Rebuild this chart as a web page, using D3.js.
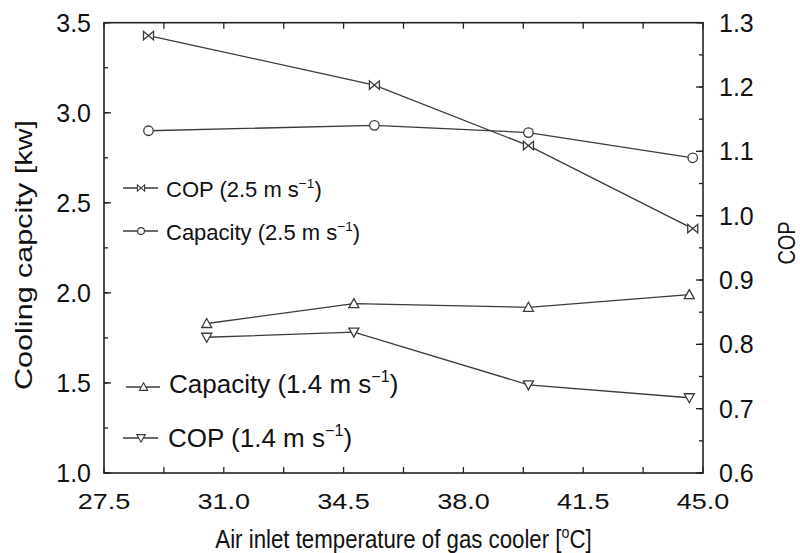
<!DOCTYPE html>
<html>
<head>
<meta charset="utf-8">
<script src="https://cdn.jsdelivr.net/npm/d3@7"></script>
<style>
  body { margin: 0; background: #fff; }
  text { font-family: "Liberation Sans", Arial, Helvetica, sans-serif; fill: #111; }
</style>
</head>
<body>
<div id="chart"></div>
<script>
// air inlet temperature [degC]
var temps25 = [28.8, 35.4, 39.9, 44.7];
var temps14 = [30.5, 34.8, 39.9, 44.6];
// series
var cop25 = [1.28, 1.203, 1.109, 0.980];
var cap25 = [2.90, 2.93, 2.89, 2.75];
var cap14 = [1.83, 1.94, 1.92, 1.99];
var cop14 = [0.811, 0.819, 0.737, 0.717];
// ticks
var xTicks = [27.5, 31.0, 34.5, 38.0, 41.5, 45.0];
var yLeftTicks = [1.0, 1.5, 2.0, 2.5, 3.0, 3.5];
var yRightTicks = [0.6, 0.7, 0.8, 0.9, 1.0, 1.1, 1.2, 1.3];

var width = 800, height = 553;
var margin = {top: 22.7, right: 97, bottom: 80, left: 104};
var w = width - margin.left - margin.right;
var h = height - margin.top - margin.bottom;
var ink = "#222", lineCol = "#3a3a3a";

var svg = d3.select("#chart").append("svg")
    .attr("width", width).attr("height", height);
var g = svg.append("g")
    .attr("transform", "translate(" + margin.left + "," + margin.top + ")");

var x = d3.scaleLinear().domain([27.5, 45]).range([0, w]);
var yL = d3.scaleLinear().domain([1.0, 3.5]).range([h, 0]);
var yR = d3.scaleLinear().domain([0.6, 1.3]).range([h, 0]);

// minor ticks
var xMinor = d3.range(27.5, 45.01, 1.75);
var yLMinor = d3.range(1.0, 3.51, 0.25);
var yRMinor = d3.range(0.6, 1.301, 0.05);

function tickLines(sel, vals, scale, orient, len) {
    sel.selectAll(null).data(vals).enter().append("line")
        .attr("stroke", ink).attr("stroke-width", 1.3)
        .each(function (d) {
            var s = d3.select(this), p = scale(d);
            if (orient === "bottom") s.attr("x1", p).attr("x2", p).attr("y1", h).attr("y2", h - len);
            if (orient === "top") s.attr("x1", p).attr("x2", p).attr("y1", 0).attr("y2", len);
            if (orient === "left") s.attr("y1", p).attr("y2", p).attr("x1", 0).attr("x2", len);
            if (orient === "right") s.attr("y1", p).attr("y2", p).attr("x1", w).attr("x2", w - len);
        });
}
var axes = g.append("g");
tickLines(axes, xMinor, x, "bottom", 6);
tickLines(axes, xMinor, x, "top", 6);
tickLines(axes, yLMinor, yL, "left", 4);
tickLines(axes, yLeftTicks, yL, "left", 7);
tickLines(axes, yRMinor, yR, "right", 4);
tickLines(axes, yRightTicks, yR, "right", 7);

// frame
g.append("rect").attr("width", w).attr("height", h)
    .attr("fill", "none").attr("stroke", ink).attr("stroke-width", 1.6);

// tick labels (the source figure's lettering is a bit stretched)
var fmt = d3.format(".1f");
g.selectAll(".xl").data(xTicks).enter().append("text")
    .attr("transform", function (d) { return "translate(" + x(d) + "," + (h + 36) + ") scale(1.2,1)"; })
    .attr("text-anchor", "middle").style("font-size", "22.5px")
    .text(fmt);
g.selectAll(".yl").data(yLeftTicks).enter().append("text")
    .attr("x", -13).attr("y", function (d) { return yL(d) + 9; })
    .attr("text-anchor", "end").style("font-size", "25px")
    .text(fmt);
g.selectAll(".yr").data(yRightTicks).enter().append("text")
    .attr("x", w + 16).attr("y", function (d) { return yR(d) + 9; })
    .attr("text-anchor", "start").style("font-size", "25px")
    .text(fmt);

// axis titles
var xt = svg.append("text")
    .attr("transform", "translate(" + (margin.left + w / 2) + ",548) scale(0.89,1)")
    .attr("text-anchor", "middle").style("font-size", "25px");
xt.append("tspan").text("Air inlet temperature of gas cooler [");
xt.append("tspan").attr("dy", -10).style("font-size", "16px").text("o");
xt.append("tspan").attr("dy", 10).text("C]");

svg.append("text")
    .attr("transform", "translate(32,255) rotate(-90) scale(1.3,1)")
    .attr("text-anchor", "middle").style("font-size", "23.5px")
    .text("Cooling capcity [kw]");
svg.append("text")
    .attr("transform", "translate(795,243) rotate(-90) scale(0.85,1)")
    .attr("text-anchor", "middle").style("font-size", "23.5px")
    .text("COP");

// markers
function drawMarker(sel, type, s) {
    if (type === "circle") {
        sel.append("circle").attr("r", s * 0.95);
    } else if (type === "up") {
        sel.append("path").attr("d", "M0," + (-s) + "L" + s + "," + (s * 0.8) + "L" + (-s) + "," + (s * 0.8) + "Z");
    } else if (type === "down") {
        sel.append("path").attr("d", "M0," + s + "L" + s + "," + (-s * 0.8) + "L" + (-s) + "," + (-s * 0.8) + "Z");
    } else if (type === "bowtie") {
        sel.append("path").attr("d", "M" + (-s) + "," + (-s * 0.85) + "L" + (-s) + "," + (s * 0.85) +
            "L" + s + "," + (-s * 0.85) + "L" + s + "," + (s * 0.85) + "Z");
    }
}

var series = [
    {xs: temps25, ys: cop25, scale: yR, marker: "bowtie", name: "COP (2.5 m s"},
    {xs: temps25, ys: cap25, scale: yL, marker: "circle", name: "Capacity (2.5 m s"},
    {xs: temps14, ys: cap14, scale: yL, marker: "up", name: "Capacity (1.4 m s"},
    {xs: temps14, ys: cop14, scale: yR, marker: "down", name: "COP (1.4 m s"}
];

series.forEach(function (s) {
    var pts = s.xs.map(function (t, i) { return [x(t), s.scale(s.ys[i])]; });
    g.append("path").datum(pts)
        .attr("d", d3.line())
        .attr("fill", "none").attr("stroke", lineCol).attr("stroke-width", 1.3);
    g.selectAll(null).data(pts).enter().append("g")
        .attr("transform", function (d) { return "translate(" + d[0] + "," + d[1] + ")"; })
        .attr("fill", "#fff").attr("stroke", lineCol).attr("stroke-width", 1.3)
        .each(function () { drawMarker(d3.select(this), s.marker, 5); });
});

// legend: two groups, the lower one drawn larger in the source
var legendRows = [
    {y: 188, base: 9, x0: 123, x1: 158, tx: 166, fs: 22, m: 3.6},
    {y: 231, base: 9, x0: 123, x1: 158, tx: 166, fs: 22, m: 3.6},
    {y: 387, base: 6, x0: 126, x1: 160, tx: 169, fs: 26, m: 4.2},
    {y: 438, base: 9, x0: 123, x1: 158, tx: 168, fs: 26, m: 4.2}
];
var leg = svg.append("g");
series.forEach(function (s, i) {
    var r = legendRows[i];
    var row = leg.append("g").attr("transform", "translate(0," + r.y + ")");
    row.append("line").attr("x1", r.x0).attr("x2", r.x1)
        .attr("stroke", lineCol).attr("stroke-width", 1.3);
    var m = row.append("g").attr("transform", "translate(" + ((r.x0 + r.x1) / 2 + 0.5) + ",0)")
        .attr("fill", "#fff").attr("stroke", lineCol).attr("stroke-width", 1.1);
    drawMarker(m, s.marker, r.m);
    var t = row.append("text").attr("x", r.tx).attr("y", r.base).style("font-size", r.fs + "px");
    t.append("tspan").text(s.name);
    t.append("tspan").attr("dy", -r.fs * 0.42).style("font-size", (r.fs * 0.62) + "px").text("\u22121");
    t.append("tspan").attr("dy", r.fs * 0.42).text(")");
});
</script>
</body>
</html>
